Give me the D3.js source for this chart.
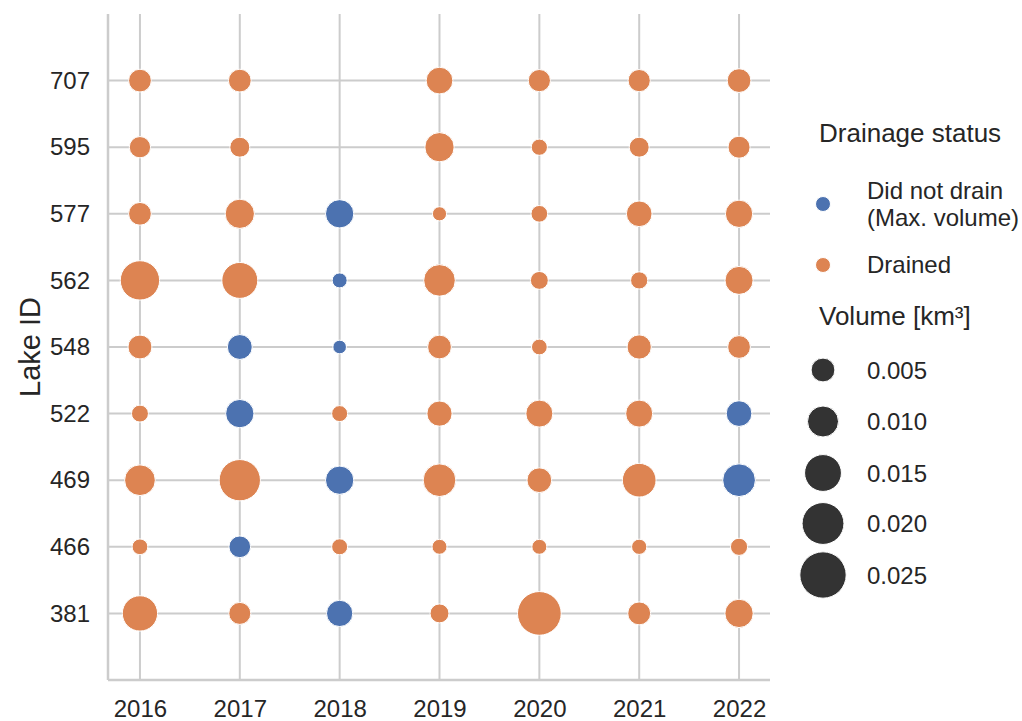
<!DOCTYPE html>
<html>
<head>
<meta charset="utf-8">
<script src="https://cdn.jsdelivr.net/npm/d3@7"></script>
<style>
  html, body { margin: 0; padding: 0; background: #ffffff; }
  svg { display: block; font-family: "Liberation Sans", Arial, sans-serif; }
</style>
</head>
<body>
<svg id="chart" width="1022" height="721"></svg>
<script>
// Years on the x axis
const years = [2016, 2017, 2018, 2019, 2020, 2021, 2022];
// Lake IDs, top to bottom
const lakeIds = ["707", "595", "577", "562", "548", "522", "469", "466", "381"];

// Volume [km³] per lake and year (null = no observation)
const lake707 = [0.0044, 0.0044, null,   0.0069, 0.0041, 0.0041, 0.0050];
const lake595 = [0.0036, 0.0029, null,   0.0087, 0.0012, 0.0029, 0.0040];
const lake577 = [0.0044, 0.0087, 0.0080, 0.0004, 0.0014, 0.0062, 0.0073];
const lake562 = [0.0174, 0.0142, 0.0007, 0.0105, 0.0019, 0.0016, 0.0078];
const lake548 = [0.0051, 0.0057, 0.0002, 0.0050, 0.0010, 0.0053, 0.0044];
const lake522 = [0.0015, 0.0080, 0.0011, 0.0059, 0.0071, 0.0071, 0.0062];
const lake469 = [0.0098, 0.0194, 0.0080, 0.0114, 0.0056, 0.0122, 0.0114];
const lake466 = [0.0010, 0.0038, 0.0011, 0.0007, 0.0007, 0.0008, 0.0016];
const lake381 = [0.0136, 0.0040, 0.0066, 0.0024, 0.0220, 0.0045, 0.0080];

// Drainage status per lake and year: "D" = drained, "N" = did not drain
const status707 = ["D", "D", null, "D", "D", "D", "D"];
const status595 = ["D", "D", null, "D", "D", "D", "D"];
const status577 = ["D", "D", "N",  "D", "D", "D", "D"];
const status562 = ["D", "D", "N",  "D", "D", "D", "D"];
const status548 = ["D", "N", "N",  "D", "D", "D", "D"];
const status522 = ["D", "N", "D",  "D", "D", "D", "N"];
const status469 = ["D", "D", "N",  "D", "D", "D", "N"];
const status466 = ["D", "N", "D",  "D", "D", "D", "D"];
const status381 = ["D", "D", "N",  "D", "D", "D", "D"];

const statusKeys = ["N", "D"];
const statusLabels = [["Did not drain", "(Max. volume)"], ["Drained"]];
const statusColors = ["#4c72b0", "#dd8452"];

// Size legend entries
const sizeLegendValues = [0.005, 0.010, 0.015, 0.020, 0.025];
const sizeLegendLabels = ["0.005", "0.010", "0.015", "0.020", "0.025"];

// Assemble long-format records
const volumeRows = [lake707, lake595, lake577, lake562, lake548, lake522, lake469, lake466, lake381];
const statusRows = [status707, status595, status577, status562, status548, status522, status469, status466, status381];
const records = [];
lakeIds.forEach((id, i) => {
  years.forEach((yr, j) => {
    const v = volumeRows[i][j];
    if (v != null) records.push({ lake: id, year: yr, volume: v, status: statusRows[i][j] });
  });
});

const svg = d3.select("#chart");
const textColor = "#262626";
const gridColor = "#cccccc";

const plot = { left: 108, right: 770, top: 14, bottom: 680 };

const x = d3.scaleLinear()
  .domain([2015.68, 2022.31])
  .range([plot.left, plot.right]);

const y = d3.scalePoint()
  .domain(lakeIds)
  .range([plot.top, plot.bottom])
  .padding(1);

// Marker area (diameter squared, px²) grows linearly with volume
const markerArea = d3.scaleLinear().domain([0, 0.025]).range([170, 2150]);
const radius = v => Math.sqrt(markerArea(v)) / 2;

const color = d3.scaleOrdinal().domain(statusKeys).range(statusColors);

// Grid lines
const grid = svg.append("g");
grid.selectAll("line.v").data(years).join("line")
  .attr("x1", d => x(d)).attr("x2", d => x(d))
  .attr("y1", plot.top).attr("y2", plot.bottom)
  .attr("stroke", gridColor).attr("stroke-width", 2);
grid.selectAll("line.h").data(lakeIds).join("line")
  .attr("x1", plot.left).attr("x2", plot.right)
  .attr("y1", d => y(d)).attr("y2", d => y(d))
  .attr("stroke", gridColor).attr("stroke-width", 2);

// Axes (spines without tick marks)
const xAxis = svg.append("g")
  .attr("transform", `translate(0,${plot.bottom})`)
  .call(d3.axisBottom(x).tickValues(years).tickFormat(d3.format("d")).tickSize(0).tickPadding(20));
const yAxis = svg.append("g")
  .attr("transform", `translate(${plot.left},0)`)
  .call(d3.axisLeft(y).tickSize(0).tickPadding(18));

[xAxis, yAxis].forEach(g => {
  g.select(".domain").attr("stroke", gridColor).attr("stroke-width", 2.5);
  g.selectAll("text").attr("fill", textColor).style("font-size", "24px")
    .style("font-family", "'Liberation Sans', Arial, sans-serif");
});
xAxis.select(".domain").attr("d", `M${plot.left},0H${plot.right}`);
yAxis.select(".domain").attr("d", `M0,${plot.top}V${plot.bottom}`);

// Y axis title
svg.append("text")
  .attr("transform", `translate(40,${(plot.top + plot.bottom) / 2}) rotate(-90)`)
  .attr("text-anchor", "middle")
  .attr("fill", textColor)
  .style("font-size", "29px")
  .text("Lake ID");

// Bubbles, larger first so small ones stay visible
svg.append("g").selectAll("circle")
  .data(records.slice().sort((a, b) => b.volume - a.volume))
  .join("circle")
  .attr("cx", d => x(d.year))
  .attr("cy", d => y(d.lake))
  .attr("r", d => radius(d.volume))
  .attr("fill", d => color(d.status))
  .attr("stroke", "#ffffff")
  .attr("stroke-width", 1);

// Legend
const legend = svg.append("g");
const markerX = 823, labelX = 867;

legend.append("text")
  .attr("x", 819).attr("y", 142)
  .attr("fill", textColor).style("font-size", "26px")
  .text("Drainage status");

const statusY = [204, 265];
statusKeys.forEach((k, i) => {
  legend.append("circle")
    .attr("cx", markerX).attr("cy", statusY[i]).attr("r", 7.5)
    .attr("fill", color(k)).attr("stroke", "#ffffff").attr("stroke-width", 1);
  const lines = statusLabels[i];
  const t = legend.append("text")
    .attr("fill", textColor).style("font-size", "24px");
  lines.forEach((line, li) => {
    const offset = (li - (lines.length - 1) / 2) * 27 + 8;
    t.append("tspan").attr("x", labelX).attr("y", statusY[i] + offset).text(line);
  });
});

legend.append("text")
  .attr("x", 819).attr("y", 325)
  .attr("fill", textColor).style("font-size", "26px")
  .text("Volume [km³]");

const sizeY = [370, 421.5, 473, 523.5, 575];
sizeLegendValues.forEach((v, i) => {
  legend.append("circle")
    .attr("cx", markerX).attr("cy", sizeY[i]).attr("r", radius(v))
    .attr("fill", "#333333").attr("stroke", "#ffffff").attr("stroke-width", 1);
  legend.append("text")
    .attr("x", labelX).attr("y", sizeY[i] + 8.5)
    .attr("fill", textColor).style("font-size", "24px")
    .text(sizeLegendLabels[i]);
});
</script>
</body>
</html>
